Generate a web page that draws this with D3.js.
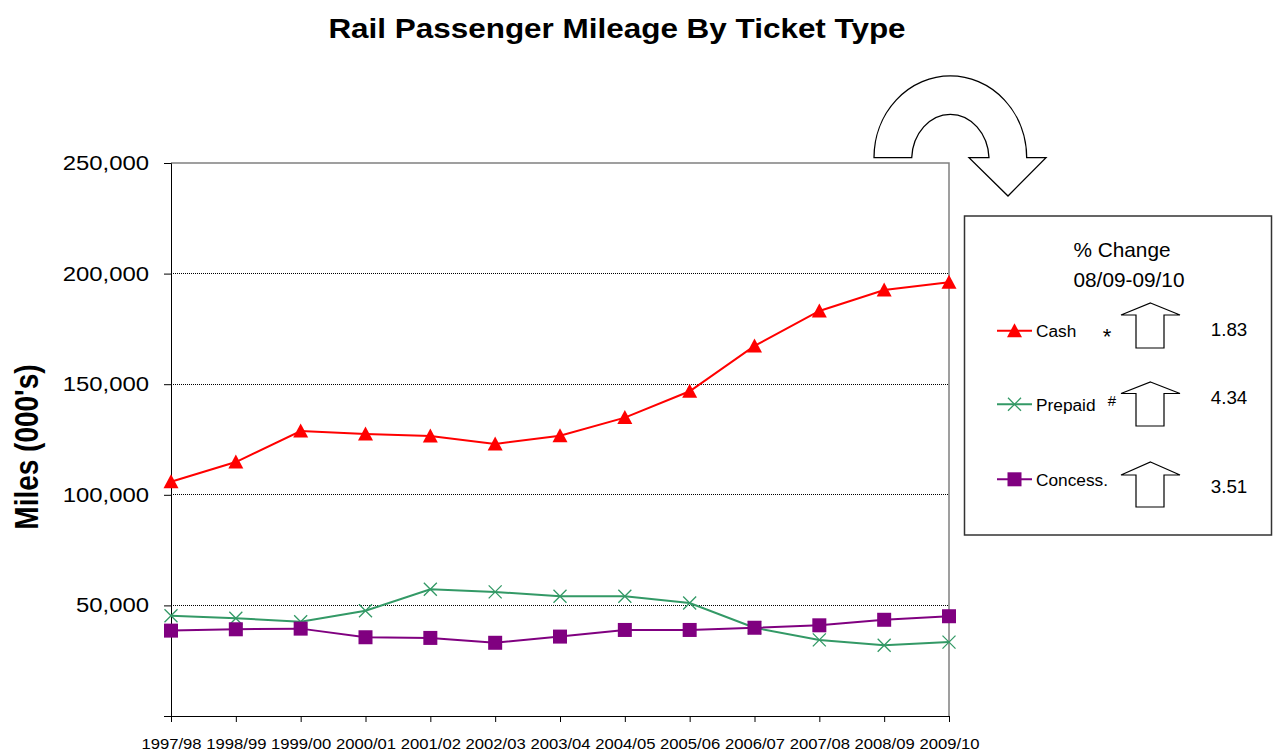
<!DOCTYPE html>
<html>
<head>
<meta charset="utf-8">
<script src="https://cdn.jsdelivr.net/npm/d3@7"></script>
<style>
  html, body { margin: 0; padding: 0; background: #fff; }
  svg { display: block; font-family: "Liberation Sans", Arial, sans-serif; }
</style>
</head>
<body>
<svg id="chart" width="1275" height="753"></svg>
<script>
// ---------- data ----------
const years = ["1997/98","1998/99","1999/00","2000/01","2001/02","2002/03","2003/04",
               "2004/05","2005/06","2006/07","2007/08","2008/09","2009/10"];
const cash     = [105900,114800,128800,127500,126600,123000,126700,134900,146800,167300,183100,192600,196100];
const prepaid  = [45300,44200,42600,47600,57300,56100,54100,54100,51100,39900,34400,32000,33400];
const concess  = [38600,39200,39500,35600,35300,33100,35900,38900,38900,39900,41000,43500,45100];
const yTicks   = [0,50000,100000,150000,200000,250000];
const seriesNames = ["Cash","Prepaid","Concess."];
const changes  = ["1.83","4.34","3.51"];
const changeMarks = ["*","#",""];

const colors = {Cash:"#FF0000", Prepaid:"#339966", "Concess.":"#800080"};
const SX = 1.165; // horizontal stretch of the chart's own text

const svg = d3.select("#chart");
const M = {left:171, right:949, top:163, bottom:716};

const x = d3.scalePoint().domain(years).range([M.left, M.right]);
const y = d3.scaleLinear().domain([0,250000]).range([M.bottom, M.top]);

// Title
svg.append("text").attr("transform",`translate(617,38) scale(${SX},1)`).attr("text-anchor","middle")
  .attr("font-size",27).attr("font-weight","bold").text("Rail Passenger Mileage By Ticket Type");

// gridlines
svg.append("g").selectAll("line").data(yTicks.filter(d=>d>0 && d<250000)).join("line")
  .attr("x1",M.left).attr("x2",M.right).attr("y1",d=>y(d)).attr("y2",d=>y(d))
  .attr("stroke","#000").attr("stroke-width",1).attr("stroke-dasharray","1,1").attr("shape-rendering","crispEdges");

// plot border top/right
svg.append("path").attr("d",`M${M.left},${M.top}H${M.right}V${M.bottom}`)
  .attr("fill","none").attr("stroke","#808080").attr("stroke-width",1.5);

// y axis
const yAxis = d3.axisLeft(y).tickValues(yTicks).tickSize(7)
  .tickFormat(d => d === 0 ? "" : d3.format(",")(d));
const gy = svg.append("g").attr("transform",`translate(${M.left},0)`).call(yAxis);
gy.select(".domain").attr("stroke","#000");
gy.selectAll("text").attr("font-size",20.5).attr("font-family","Liberation Sans, Arial").attr("fill","#000")
  .attr("x",0).attr("transform",`translate(-22,0) scale(${SX},1)`);

// x axis
const xAxis = d3.axisBottom(x).tickSize(6).tickPadding(0);
const gx = svg.append("g").attr("transform",`translate(0,${M.bottom})`).call(xAxis);
gx.selectAll("text").attr("font-size",15).attr("font-family","Liberation Sans, Arial").attr("fill","#000")
  .attr("dy",0).attr("y",0).attr("transform",`translate(0,33) scale(1.11,1)`);

// y title
svg.append("text").attr("transform",`translate(38,447) scale(${SX},1) rotate(-90)`).attr("text-anchor","middle")
  .attr("font-size",28).attr("font-weight","bold").text("Miles (000's)");

// series
const series = [
  {name:"Cash", values:cash},
  {name:"Prepaid", values:prepaid},
  {name:"Concess.", values:concess}
];
const line = d3.line().x((d,i)=>x(years[i])).y(d=>y(d));

function marker(g, name, cx, cy) {
  const c = colors[name];
  if (name === "Cash") {
    g.append("path").attr("d",`M${cx},${cy-7.5}L${cx+7.5},${cy+6.5}L${cx-7.5},${cy+6.5}Z`).attr("fill",c);
  } else if (name === "Prepaid") {
    g.append("path").attr("d",`M${cx-6.5},${cy-6.5}L${cx+6.5},${cy+6.5}M${cx+6.5},${cy-6.5}L${cx-6.5},${cy+6.5}`)
      .attr("stroke",c).attr("stroke-width",1.3).attr("fill","none");
  } else {
    g.append("rect").attr("x",cx-7).attr("y",cy-7).attr("width",14).attr("height",14).attr("fill",c);
  }
}

series.forEach(s => {
  const g = svg.append("g");
  g.append("path").datum(s.values).attr("d",line).attr("fill","none")
    .attr("stroke",colors[s.name]).attr("stroke-width",2);
  s.values.forEach((v,i)=>marker(g, s.name, x(years[i]), y(v)));
});

// curved arrow
svg.append("path")
  .attr("d","M874,157.7 A76.3,81.7 0 0 1 1026.7,157.7 L1046,157.7 L1008,196 L969,157.7 L989,157.7 A38.7,45.7 0 0 0 911.7,157.7 Z")
  .attr("fill","#fff").attr("stroke","#000").attr("stroke-width",1.3);

// legend box
svg.append("rect").attr("x",964.5).attr("y",216).attr("width",307).attr("height",319)
  .attr("fill","#fff").attr("stroke","#333").attr("stroke-width",1.5);
svg.append("text").attr("x",1122).attr("y",256.5).attr("text-anchor","middle").attr("font-size",20.8).text("% Change");
svg.append("text").attr("x",1129).attr("y",287).attr("text-anchor","middle").attr("font-size",20.8).text("08/09-09/10");

const legRows = [
  {lineY:330.7, textY:337, arrowTop:303, headBase:315, bottom:348, numY:335.5, markY:344, markX:1107, markSize:22},
  {lineY:404.3, textY:410.5, arrowTop:382, headBase:393.5, bottom:426, numY:404, markY:406, markX:1112, markSize:15},
  {lineY:479.3, textY:485.5, arrowTop:462, headBase:475, bottom:507, numY:493.3, markY:0, markX:0, markSize:0}
];
seriesNames.forEach((name,i)=>{
  const r = legRows[i];
  const g = svg.append("g");
  g.append("line").attr("x1",997).attr("x2",1032).attr("y1",r.lineY).attr("y2",r.lineY)
    .attr("stroke",colors[name]).attr("stroke-width",2);
  marker(g, name, 1014.5, r.lineY);
  g.append("text").attr("x",1036).attr("y",r.textY).attr("font-size",17.3).text(name);
  if (changeMarks[i]) g.append("text").attr("x",r.markX).attr("y",r.markY).attr("text-anchor","middle")
      .attr("font-size",r.markSize).text(changeMarks[i]);
  g.append("path").attr("d",`M1150.5,${r.arrowTop} L1180,${r.headBase} L1164,${r.headBase} L1164,${r.bottom} L1136,${r.bottom} L1136,${r.headBase} L1121,${r.headBase} Z`)
    .attr("fill","#fff").attr("stroke","#000").attr("stroke-width",1.2);
  g.append("text").attr("x",1229).attr("y",r.numY).attr("text-anchor","middle").attr("font-size",18.8).text(changes[i]);
});
</script>
</body>
</html>
